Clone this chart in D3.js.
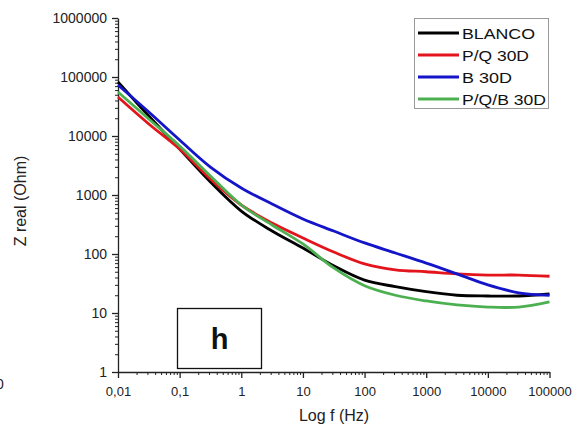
<!DOCTYPE html>
<html>
<head>
<meta charset="utf-8">
<script src="https://cdn.jsdelivr.net/npm/d3@7"></script>
<style>
  html, body { margin: 0; padding: 0; background: #fff; }
  svg { display: block; font-family: Arial, "Liberation Sans", sans-serif; }
</style>
</head>
<body>
<svg id="chart" width="585" height="433"></svg>
<script>
// ---- data ----
const freqs = [0.01, 0.0316, 0.1, 0.316, 1, 3.16, 10, 31.6, 100, 316, 1000, 3162, 10000, 31623, 100000];
const blanco = [82300, 21800, 6020, 1660, 535, 245, 126, 63, 36, 28, 23, 20, 19.4, 19.4, 21];
const pq30 = [45800, 16000, 6020, 1867, 677, 335, 187, 108, 68, 54, 50, 46, 44, 44, 42];
const b30 = [73200, 25500, 8550, 2980, 1315, 704, 392, 245, 154, 104, 70, 46, 30, 22, 20];
const pqb30 = [55700, 19400, 6770, 2100, 677, 310, 148, 58, 29, 20, 16, 13.7, 12.6, 12.6, 15.4];
const seriesNames = ["BLANCO", "P/Q 30D", "B 30D", "P/Q/B 30D"];
const seriesColors = ["#000000", "#e3141c", "#1414c8", "#4cb050"];
const xTicks = [0.01, 0.1, 1, 10, 100, 1000, 10000, 100000];
const xTickLabels = ["0,01", "0,1", "1", "10", "100", "1000", "10000", "100000"];
const yTicks = [1, 10, 100, 1000, 10000, 100000, 1000000];
const yTickLabels = ["1", "10", "100", "1000", "10000", "100000", "1000000"];
const xTitle = "Log f (Hz)";
const yTitle = "Z real (Ohm)";
const panelLabel = "h";

// ---- layout ----
const svg = d3.select("#chart");
const mLeft = 118, mRight = 549.5, mTop = 18, mBottom = 372;
const x = d3.scaleLog().domain([0.01, 100000]).range([mLeft, mRight]);
const y = d3.scaleLog().domain([1, 1000000]).range([mBottom, mTop]);

function minorTicks(lo, hi) {
  const out = [];
  for (let d = lo; d < hi; d *= 10) for (let k = 2; k <= 9; k++) out.push(d * k);
  return out;
}

// minor ticks
svg.append("g").attr("transform", `translate(0,${mBottom})`)
  .call(d3.axisBottom(x).tickValues(minorTicks(0.01, 100000)).tickSize(3).tickFormat(""))
  .call(g => g.select(".domain").remove())
  .call(g => g.selectAll("line").attr("stroke", "#222").attr("stroke-width", 1));
svg.append("g").attr("transform", `translate(${mLeft},0)`)
  .call(d3.axisLeft(y).tickValues(minorTicks(1, 1000000)).tickSize(3).tickFormat(""))
  .call(g => g.select(".domain").remove())
  .call(g => g.selectAll("line").attr("stroke", "#222").attr("stroke-width", 1));

// major axes
const xAxis = svg.append("g").attr("transform", `translate(0,${mBottom})`)
  .call(d3.axisBottom(x).tickValues(xTicks).tickSize(6).tickSizeOuter(0)
    .tickFormat((d, i) => xTickLabels[i]));
const yAxis = svg.append("g").attr("transform", `translate(${mLeft},0)`)
  .call(d3.axisLeft(y).tickValues(yTicks).tickSize(6).tickSizeOuter(0)
    .tickFormat((d, i) => yTickLabels[i]));
[xAxis, yAxis].forEach(g => {
  g.select(".domain").attr("stroke", "#222").attr("stroke-width", 1.3);
  g.selectAll(".tick line").attr("stroke", "#222").attr("stroke-width", 1.3);
  g.selectAll("text").attr("fill", "#222")
    .attr("font-family", "Arial, 'Liberation Sans', sans-serif");
});
xAxis.selectAll("text").attr("font-size", 13).attr("dy", "1.15em");
yAxis.selectAll("text").attr("font-size", 14).attr("x", -11);

// curves
const all = [blanco, pq30, b30, pqb30];
const line = d3.line().x(d => x(d[0])).y(d => y(d[1])).curve(d3.curveCatmullRom.alpha(0.5));
[0, 1, 2, 3].forEach(i => {
  svg.append("path")
    .datum(freqs.map((f, j) => [f, all[i][j]]))
    .attr("d", line)
    .attr("fill", "none")
    .attr("stroke", seriesColors[i])
    .attr("stroke-width", 2.8)
    .attr("stroke-linejoin", "round");
});

// legend
const legendWidths = [73, 67, 50, 84];
const lg = svg.append("g");
lg.append("rect").attr("x", 414.5).attr("y", 18.5).attr("width", 134).attr("height", 90)
  .attr("fill", "#fff").attr("stroke", "#999").attr("stroke-width", 1);
seriesNames.forEach((n, i) => {
  const yy = 33 + i * 22;
  lg.append("line").attr("x1", 418).attr("x2", 459).attr("y1", yy).attr("y2", yy)
    .attr("stroke", seriesColors[i]).attr("stroke-width", 2.8);
  lg.append("text").attr("x", 462).attr("y", yy + 5.5).attr("font-size", 15.5)
    .attr("textLength", legendWidths[i]).attr("lengthAdjust", "spacingAndGlyphs")
    .attr("fill", "#111").text(n);
});

// panel label box
svg.append("rect").attr("x", 177.5).attr("y", 308.5).attr("width", 84).attr("height", 60)
  .attr("fill", "#fff").attr("stroke", "#111").attr("stroke-width", 1.3);
svg.append("text").attr("x", 219.5).attr("y", 349).attr("text-anchor", "middle")
  .attr("font-size", 29).attr("font-weight", "bold").attr("fill", "#111").text(panelLabel);

// titles
svg.append("text").attr("x", 334).attr("y", 421).attr("text-anchor", "middle")
  .attr("font-size", 16).attr("fill", "#222").text(xTitle);
svg.append("text").attr("transform", "translate(26,201) rotate(-90)")
  .attr("text-anchor", "middle").attr("font-size", 16).attr("fill", "#222").text(yTitle);

// cut-off label from neighbouring panel
svg.append("text").attr("x", -4).attr("y", 389).attr("font-size", 14).attr("fill", "#222").text("0");
</script>
</body>
</html>
